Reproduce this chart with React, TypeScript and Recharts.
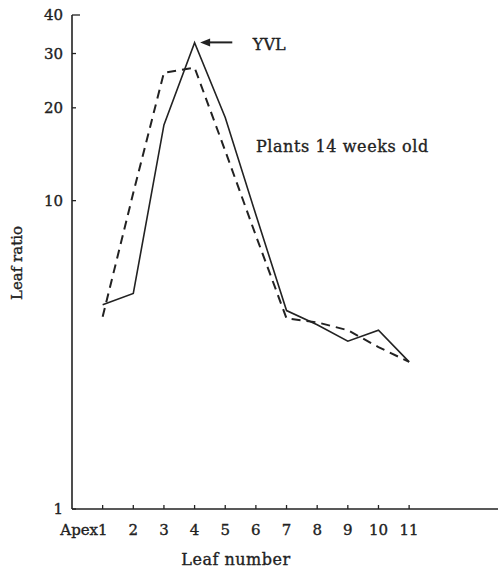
import { LineChart, Line, XAxis, YAxis, ReferenceLine, ReferenceDot } from 'recharts'

const leafNumbers = [1, 2, 3, 4, 5, 6, 7, 8, 9, 10, 11]
const solidRatio = [4.6, 5.0, 17.6, 32.5, 18.6, 9.0, 4.4, 3.96, 3.5, 3.8, 3.0]
const dashedRatio = [4.2, 10.6, 26.0, 27.0, 14.5, 7.7, 4.15, 4.03, 3.8, 3.35, 3.0]
const yTicks = [1, 10, 20, 30, 40]

const data = leafNumbers.map((leaf, i) => ({ leaf, solid: solidRatio[i], dashed: dashedRatio[i] }))

const ink = '#222'
const font = '"DejaVu Serif", serif'
const textStyle = { fontFamily: font, fill: ink, stroke: ink, strokeWidth: 0.35 }

function XTick(props: any) {
  const { x, y, payload } = props
  const isApex = payload.value === 1
  return (
    <g>
      <line x1={x} y1={y} x2={x} y2={y - 4} stroke={ink} strokeWidth={1.3} />
      <text x={isApex ? x + 5 : x} y={y + 26} textAnchor={isApex ? 'end' : 'middle'} fontSize={15} style={textStyle}>
        {isApex ? 'Apex1' : payload.value}
      </text>
    </g>
  )
}

function YTick(props: any) {
  const { x, y, payload } = props
  return (
    <g>
      <line x1={x} y1={y} x2={x + (payload.value === 40 ? 8 : 4)} y2={y} stroke={ink} strokeWidth={1.3} />
      <text x={x - 9} y={y + 5} textAnchor="end" fontSize={15} style={textStyle}>
        {payload.value}
      </text>
    </g>
  )
}

function Arrow(props: any) {
  const { x1, y1, x2, y2 } = props
  return (
    <g>
      <line x1={x1 + 6} y1={y1} x2={x2} y2={y2} stroke={ink} strokeWidth={2} />
      <path d={`M${x1},${y1} L${x1 + 10},${y1 - 4} L${x1 + 10},${y1 + 4} Z`} fill={ink} />
    </g>
  )
}

export default function App() {
  return (
    <div style={{ position: 'absolute', left: 0, top: 0, background: '#fff' }}>
      <LineChart width={498} height={575} data={data} margin={{ top: 15, right: 0, bottom: 0, left: 0 }}>
        <XAxis
          dataKey="leaf"
          type="number"
          domain={[0, 13.9]}
          ticks={leafNumbers}
          allowDataOverflow
          height={66}
          tickSize={0}
          tickMargin={0}
          tickLine={false}
          tick={<XTick />}
          axisLine={{ stroke: ink, strokeWidth: 1.6 }}
          label={{
            content: ({ viewBox }: any) => (
              <text x={viewBox.x + 164} y={viewBox.y + 56} textAnchor="middle" fontSize={16} letterSpacing={0.5} style={textStyle}>
                Leaf number
              </text>
            ),
          }}
        />
        <YAxis
          type="number"
          scale="log"
          domain={[1, 40]}
          ticks={yTicks}
          allowDataOverflow
          width={72}
          tickSize={0}
          tickMargin={0}
          tickLine={false}
          tick={<YTick />}
          axisLine={{ stroke: ink, strokeWidth: 1.6 }}
          label={{
            content: () => (
              <text
                x={17}
                y={263}
                transform="rotate(-90 17 263)"
                textAnchor="middle"
                dominantBaseline="central"
                fontSize={15}
                style={textStyle}
              >
                Leaf ratio
              </text>
            ),
          }}
        />
        <Line dataKey="solid" stroke={ink} strokeWidth={1.6} dot={false} isAnimationActive={false} type="linear" />
        <Line dataKey="dashed" stroke={ink} strokeWidth={2} strokeDasharray="9 6" dot={false} isAnimationActive={false} type="linear" />
        <ReferenceLine segment={[{ x: 4.18, y: 32.6 }, { x: 5.23, y: 32.6 }]} shape={<Arrow />} />
        <ReferenceDot
          x={5.9}
          y={32.1}
          r={0}
          shape={(p: any) => (
            <text x={p.cx} y={p.cy} dy="0.35em" fontSize={16} style={textStyle}>
              YVL
            </text>
          )}
        />
        <ReferenceDot
          x={6.0}
          y={15}
          r={0}
          shape={(p: any) => (
            <text x={p.cx} y={p.cy} dy="0.35em" fontSize={16} letterSpacing={0.6} style={textStyle}>
              Plants 14 weeks old
            </text>
          )}
        />
      </LineChart>
    </div>
  )
}
